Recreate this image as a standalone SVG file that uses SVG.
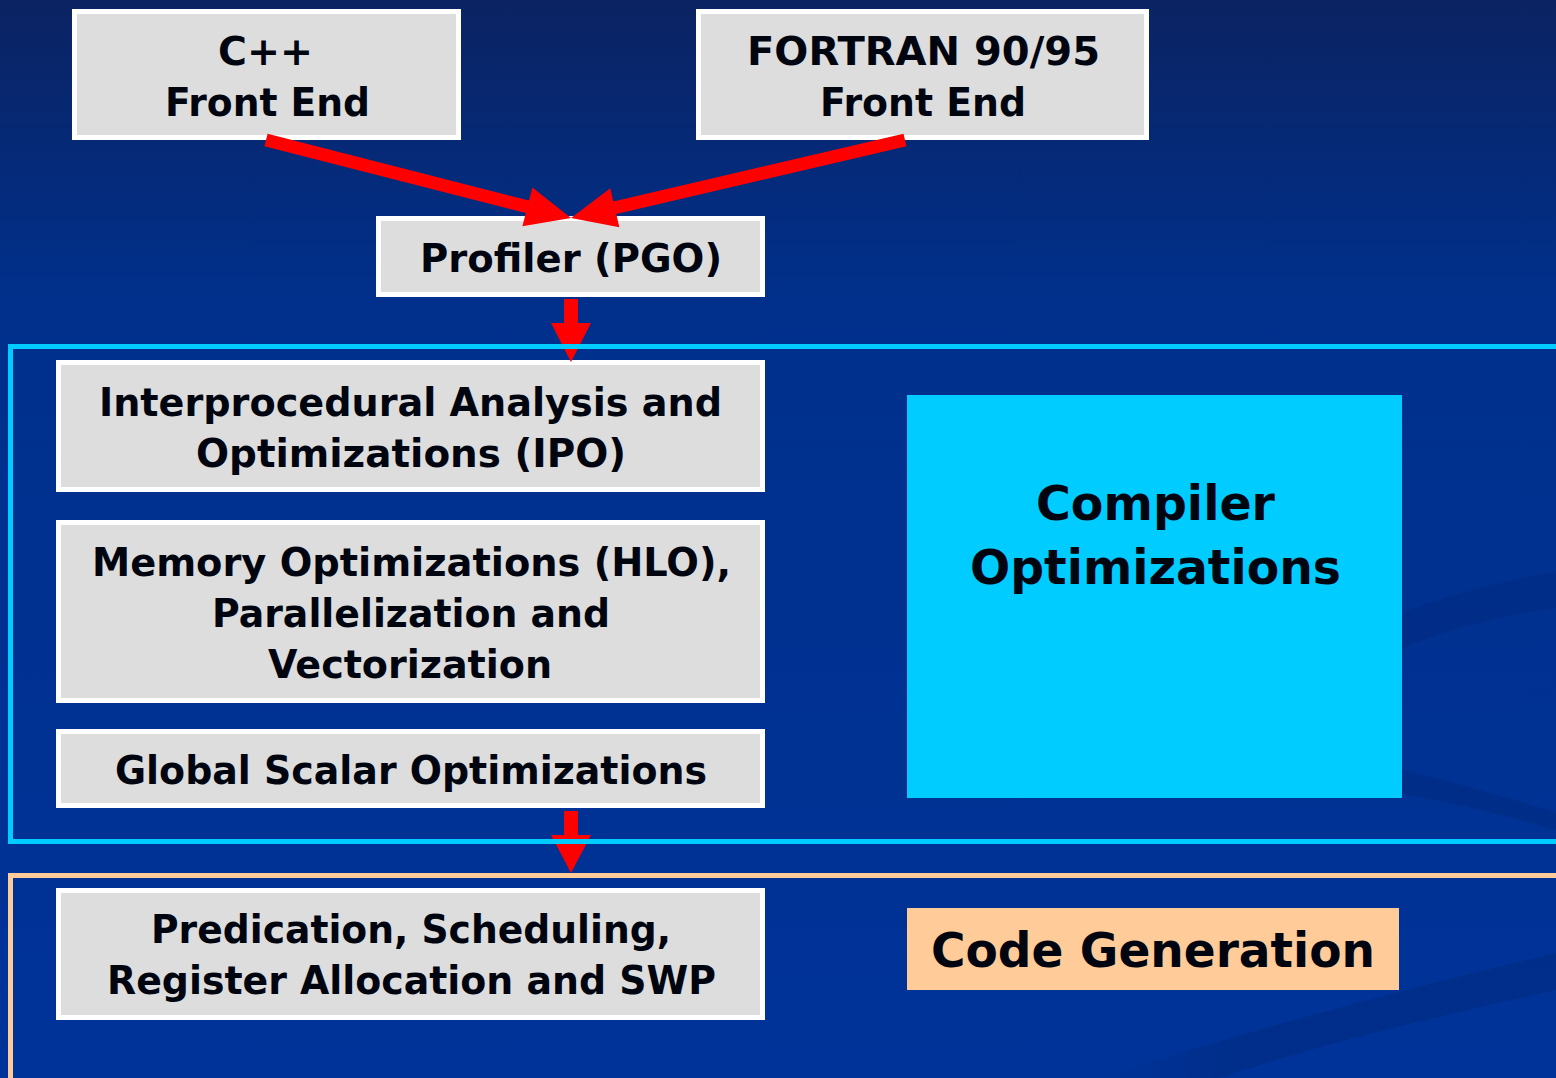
<svg xmlns="http://www.w3.org/2000/svg" width="1556" height="1078" viewBox="0 0 1556 1078">
<defs>
<linearGradient id="bg" x1="0" y1="0" x2="0" y2="1">
<stop offset="0" stop-color="#0b2362"/>
<stop offset="0.28" stop-color="#00308c"/>
<stop offset="1" stop-color="#003399"/>
</linearGradient>
<linearGradient id="sw" x1="0" y1="0" x2="1" y2="0">
<stop offset="0" stop-color="#002a80" stop-opacity="0"/>
<stop offset="0.3" stop-color="#002a80" stop-opacity="0.6"/>
<stop offset="1" stop-color="#002a80" stop-opacity="0.6"/>
</linearGradient>
<style>
.box{fill:#dddddd;stroke:#ffffff;stroke-width:5}
.t{font-family:"DejaVu Sans","Verdana",sans-serif;font-weight:bold;font-size:39px;fill:#000510;text-anchor:middle}
.big{font-size:48px}
.arrow{fill:#ff0000}
.swoosh{fill:url(#sw)}
</style>
</defs>
<rect x="0" y="0" width="1556" height="1078" fill="url(#bg)"/>
<g id="background-swooshes">
<path class="swoosh" d="M1300,660 C1380,615 1470,585 1556,572 L1556,608 C1470,620 1390,645 1300,700 Z"/>
<path class="swoosh" d="M1300,750 C1400,765 1480,790 1556,812 L1556,830 C1480,808 1400,790 1300,780 Z"/>
<path class="swoosh" d="M1100,1078 C1250,1030 1400,990 1556,953 L1556,990 C1420,1020 1300,1050 1220,1078 Z"/>
</g>
<g id="nodes">
<g id="cpp-front-end">
<rect class="box" x="74.5" y="11.5" width="384" height="126"/>
<text class="t" x="265.5" y="65" textLength="95" lengthAdjust="spacingAndGlyphs">C++</text>
<text class="t" x="267.5" y="116" textLength="205" lengthAdjust="spacingAndGlyphs">Front End</text>
</g>
<g id="fortran-front-end">
<rect class="box" x="698.5" y="11.5" width="448" height="126"/>
<text class="t" x="923.5" y="65" textLength="353" lengthAdjust="spacingAndGlyphs">FORTRAN 90/95</text>
<text class="t" x="923" y="116" textLength="206" lengthAdjust="spacingAndGlyphs">Front End</text>
</g>
<g id="profiler">
<rect class="box" x="378.5" y="218.5" width="384" height="76"/>
<text class="t" x="571" y="272" textLength="302" lengthAdjust="spacingAndGlyphs">Profiler (PGO)</text>
</g>
<g id="ipo">
<rect class="box" x="58.5" y="362.5" width="704" height="127"/>
<text class="t" x="410.5" y="416" textLength="623" lengthAdjust="spacingAndGlyphs">Interprocedural Analysis and</text>
<text class="t" x="411" y="467" textLength="430" lengthAdjust="spacingAndGlyphs">Optimizations (IPO)</text>
</g>
<g id="hlo">
<rect class="box" x="58.5" y="522.5" width="704" height="178"/>
<text class="t" x="411.5" y="576" textLength="639" lengthAdjust="spacingAndGlyphs">Memory Optimizations (HLO),</text>
<text class="t" x="411" y="627" textLength="398" lengthAdjust="spacingAndGlyphs">Parallelization and</text>
<text class="t" x="410" y="678" textLength="284" lengthAdjust="spacingAndGlyphs">Vectorization</text>
</g>
<g id="global-scalar">
<rect class="box" x="58.5" y="731.5" width="704" height="74"/>
<text class="t" x="411" y="784" textLength="592" lengthAdjust="spacingAndGlyphs">Global Scalar Optimizations</text>
</g>
<g id="codegen-steps">
<rect class="box" x="58.5" y="890.5" width="704" height="127"/>
<text class="t" x="411" y="943" textLength="520" lengthAdjust="spacingAndGlyphs">Predication, Scheduling,</text>
<text class="t" x="411.5" y="994" textLength="609" lengthAdjust="spacingAndGlyphs">Register Allocation and SWP</text>
</g>
<g id="compiler-optimizations-label">
<rect x="907" y="395" width="495" height="403" fill="#00ccff"/>
<text class="t big" x="1155.5" y="520" textLength="239" lengthAdjust="spacingAndGlyphs">Compiler</text>
<text class="t big" x="1155.5" y="584" textLength="371" lengthAdjust="spacingAndGlyphs">Optimizations</text>
</g>
<g id="code-generation-label">
<rect x="907" y="908" width="492" height="82" fill="#ffcc99"/>
<text class="t big" x="1153" y="967" textLength="444" lengthAdjust="spacingAndGlyphs">Code Generation</text>
</g>
</g>
<g id="connectors">
<polygon class="arrow" points="267.6,133.7 529,200.5 532.4,187.5 571,218 522.4,226.2 525.8,213.1 264.4,146.3"/>
<polygon class="arrow" points="903.5,133.7 613.3,201.4 610.3,188.3 571,218 619.3,227.2 616.3,214.1 906.5,146.3"/>
<polygon class="arrow" points="564,299 578,299 578,323 591,323 571,362 551,323 564,323"/>
<polygon class="arrow" points="564,811 578,811 578,835 591,835 571,873 551,835 564,835"/>
</g>
<g id="sections">
<rect x="10.5" y="346.5" width="1560" height="495" fill="none" stroke="#00ccff" stroke-width="5"/>
<rect x="10.5" y="875.5" width="1560" height="230" fill="none" stroke="#ffcc99" stroke-width="5"/>
</g>
</svg>
